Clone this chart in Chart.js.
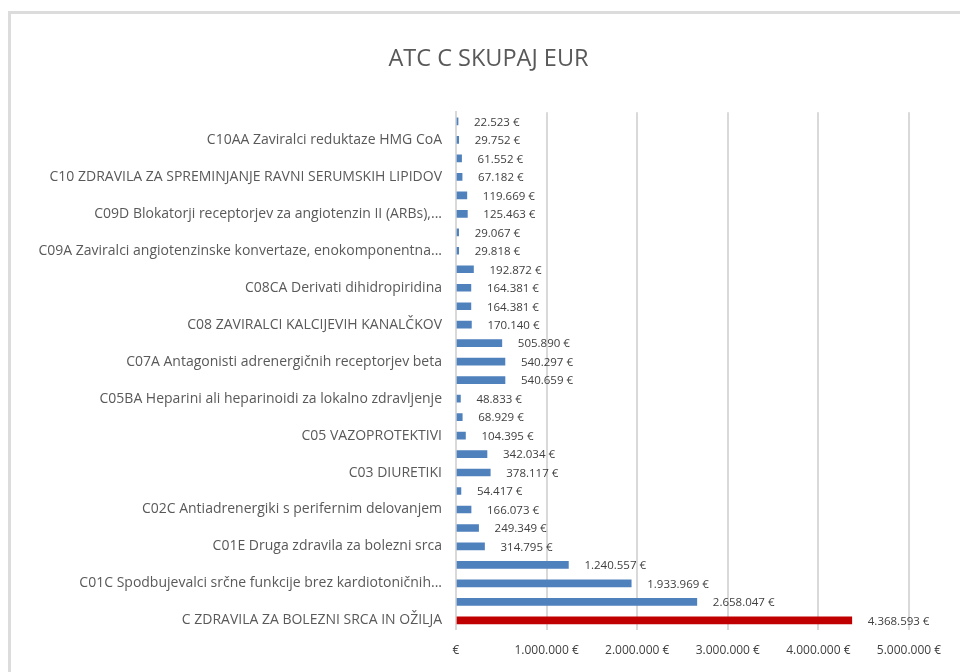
<!DOCTYPE html>
<html>
<head>
<meta charset="utf-8">
<script src="https://cdn.jsdelivr.net/npm/chart.js@4/dist/chart.umd.min.js"></script>
<style>
  body { margin: 0; background: #fff; }
  #wrap { position: relative; width: 960px; height: 672px; overflow: hidden; }
  #frame { position: absolute; left: 8px; top: 11px; width: 1000px; height: 700px;
           border-left: 3px solid #dcdcdc; border-top: 3px solid #dcdcdc; pointer-events: none; }
</style>
</head>
<body>
<div id="wrap">
  <canvas id="myChart" width="960" height="672"></canvas>
  <div id="frame"></div>
</div>
<script>
// categories, top to bottom (only every second one is labelled in the original)
var categories = [
  '', 'C10AA Zaviralci reduktaze HMG CoA',
  '', 'C10 ZDRAVILA ZA SPREMINJANJE RAVNI SERUMSKIH LIPIDOV',
  '', 'C09D Blokatorji receptorjev za angiotenzin II (ARBs),...',
  '', 'C09A Zaviralci angiotenzinske konvertaze, enokomponentna...',
  '', 'C08CA Derivati dihidropiridina',
  '', 'C08 ZAVIRALCI KALCIJEVIH KANALČKOV',
  '', 'C07A Antagonisti adrenergičnih receptorjev beta',
  '', 'C05BA Heparini ali heparinoidi za lokalno zdravljenje',
  '', 'C05 VAZOPROTEKTIVI',
  '', 'C03 DIURETIKI',
  '', 'C02C Antiadrenergiki s perifernim delovanjem',
  '', 'C01E Druga zdravila za bolezni srca',
  '', 'C01C Spodbujevalci srčne funkcije brez kardiotoničnih...',
  '', 'C ZDRAVILA ZA BOLEZNI SRCA IN OŽILJA'
];
var valuesEur = [
  22523, 29752, 61552, 67182, 119669, 125463, 29067, 29818,
  192872, 164381, 164381, 170140, 505890, 540297, 540659,
  48833, 68929, 104395, 342034, 378117, 54417, 166073,
  249349, 314795, 1240557, 1933969, 2658047, 4368593
];
var xTickLabels = ['€', '1.000.000 €', '2.000.000 €', '3.000.000 €', '4.000.000 €', '5.000.000 €'];

var blue = '#4f81bd';
var red = '#c00000';
var barColors = valuesEur.map(function (v, i) { return i === valuesEur.length - 1 ? red : blue; });

function eur(v) {
  return String(v).replace(/\B(?=(\d{3})+(?!\d))/g, '.') + ' €';
}

var fontFamily = '"Open Sans", "Noto Sans", sans-serif';

// value labels at the end of each bar
var barLabels = {
  id: 'barLabels',
  afterDatasetsDraw: function (chart) {
    var ctx = chart.ctx;
    var meta = chart.getDatasetMeta(0);
    ctx.save();
    ctx.font = '11.5px ' + fontFamily;
    ctx.fillStyle = '#404040';
    ctx.textBaseline = 'middle';
    ctx.textAlign = 'left';
    meta.data.forEach(function (bar, i) {
      ctx.fillText(eur(valuesEur[i]), bar.x + 16, bar.y + 1);
    });
    ctx.restore();
  }
};

// the original title sits a bit right of the layout centre
var shiftTitle = {
  id: 'shiftTitle',
  afterLayout: function (chart) {
    if (chart.titleBlock) {
      chart.titleBlock.left += 29;
      chart.titleBlock.right += 29;
    }
  }
};

var ctx = document.getElementById('myChart').getContext('2d');
var chart = new Chart(ctx, {
  type: 'bar',
  data: {
    labels: categories,
    datasets: [{
      data: valuesEur,
      backgroundColor: barColors,
      borderWidth: 0,
      barThickness: 7
    }]
  },
  options: {
    indexAxis: 'y',
    responsive: false,
    animation: false,
    layout: { padding: { left: 10, right: 51, top: 0, bottom: 0 } },
    plugins: {
      legend: { display: false },
      tooltip: { enabled: false },
      title: {
        display: true,
        text: 'ATC C SKUPAJ EUR',
        color: '#595959',
        font: { family: fontFamily, size: 23.5, weight: 'normal' },
        padding: { top: 45, bottom: 39 }
      }
    },
    scales: {
      x: {
        min: 0,
        max: 5000000,
        ticks: {
          stepSize: 1000000,
          color: '#404040',
          font: { family: fontFamily, size: 12 },
          padding: 14,
          maxRotation: 0,
          callback: function (v, i) { return xTickLabels[i]; }
        },
        grid: { color: '#d9d9d9', lineWidth: 2, drawTicks: false },
        border: { display: false }
      },
      y: {
        afterFit: function (scale) { scale.width = 446; },
        ticks: {
          autoSkip: false,
          color: '#595959',
          font: { family: fontFamily, size: 14 },
          padding: 14
        },
        grid: { display: false, drawTicks: false },
        border: { color: '#d9d9d9', width: 2 }
      }
    }
  },
  plugins: [barLabels, shiftTitle]
});
</script>
</body>
</html>
